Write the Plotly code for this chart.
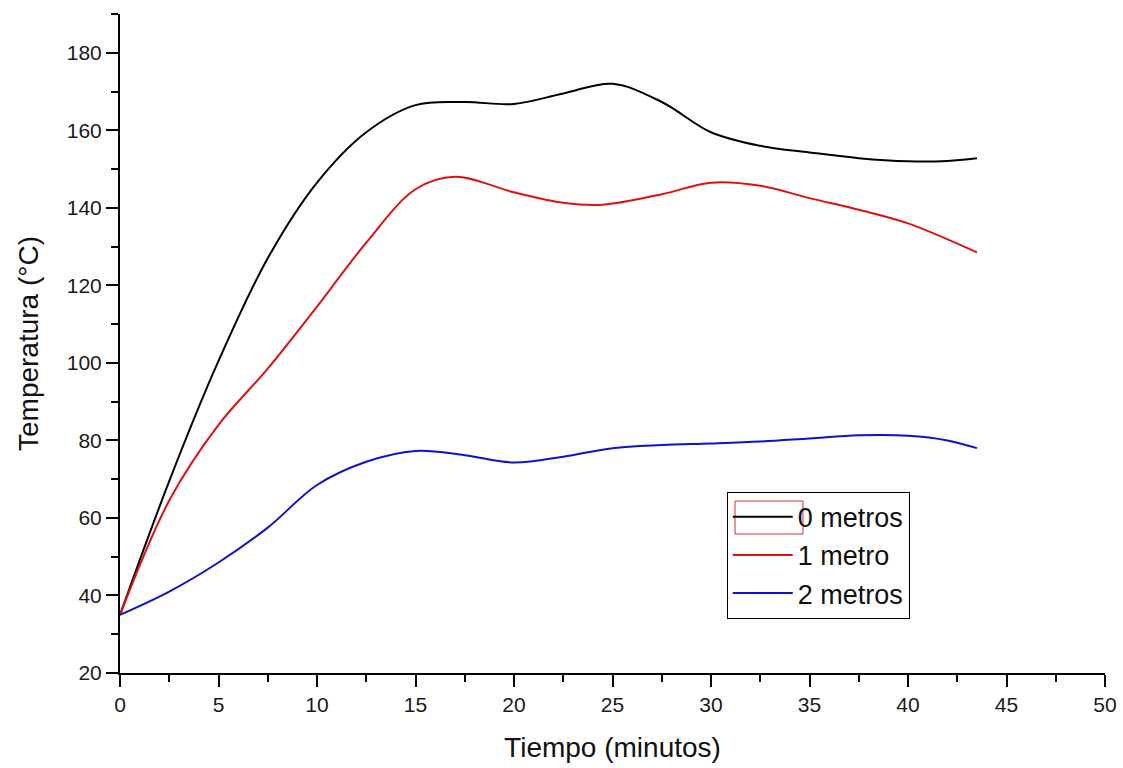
import plotly.graph_objects as go

tiempo_0 = [0, 2.5, 5, 7.5, 10, 12.5, 15, 17.5, 20, 22.5, 25, 27.5, 30, 32.5, 35, 37.5, 40, 42, 43.5]
temp_0_metros = [35, 69.5, 100.5, 127, 146.5, 159.5, 166.5, 167.3, 166.8, 169.5, 172, 167.3, 159.5, 156, 154.3, 152.8, 152, 152.1, 152.8]

tiempo_1 = [0, 2.5, 5, 7.5, 10, 12.5, 15, 17, 20, 22.5, 24.5, 27.5, 30, 32.5, 35, 37.5, 40, 43.5]
temp_1_metro = [35, 64.5, 84, 98.5, 114.5, 131, 144.8, 148, 144, 141.3, 140.8, 143.5, 146.5, 145.7, 142.5, 139.5, 136, 128.5]

tiempo_2 = [0, 2.5, 5, 7.5, 10, 12.5, 15, 17.5, 20, 22.5, 25, 27.5, 30, 32.5, 35, 37.5, 40, 42, 43.5]
temp_2_metros = [35, 41, 48.5, 57.5, 68.5, 74.5, 77.3, 76.2, 74.3, 75.8, 78, 78.8, 79.2, 79.7, 80.5, 81.3, 81.2, 80, 78]

series = [
    ("0 metros", tiempo_0, temp_0_metros, "#000000"),
    ("1 metro", tiempo_1, temp_1_metro, "#e01010"),
    ("2 metros", tiempo_2, temp_2_metros, "#1010d0"),
]

fig = go.Figure()
for name, xs, ys, col in series:
    fig.add_trace(go.Scatter(x=xs, y=ys, name=name, mode="lines",
                             line=dict(color=col, width=2, shape="spline", smoothing=1.0)))

FONT = "Liberation Sans, Arial, sans-serif"
axis_common = dict(showline=True, linecolor="black", linewidth=2, ticks="outside",
                   ticklen=12, tickwidth=2, tickcolor="black", showgrid=False,
                   zeroline=False, automargin=False,
                   tickfont=dict(family=FONT, size=21, color="#1a1a1a"),
                   minor=dict(ticks="outside", ticklen=7, tickwidth=2, tickcolor="black"))

fig.update_layout(
    width=1123, height=768,
    margin=dict(l=120, r=18, t=14, b=95),
    paper_bgcolor="white", plot_bgcolor="white",
    font=dict(family=FONT, color="#111"),
    xaxis=dict(range=[0, 50], tick0=0, dtick=5, minor_dtick=2.5,
               title=dict(text="Tiempo (minutos)", font=dict(size=28), standoff=22), **axis_common),
    yaxis=dict(range=[20, 190], tick0=20, dtick=20, minor_dtick=10,
               title=dict(text="Temperatura (°C)", font=dict(size=28), standoff=20), **axis_common),
    legend=dict(x=0.616, y=0.275, xanchor="left", yanchor="top",
                bordercolor="black", borderwidth=1, bgcolor="rgba(255,255,255,0)",
                font=dict(size=27, color="#111"), tracegroupgap=0, itemwidth=60),
    showlegend=True,
)

# red frame drawn around the first legend sample in the original
fig.add_shape(type="rect", xref="paper", yref="paper", layer="above",
              x0=0.6244, x1=0.6934, y0=0.2109, y1=0.261,
              line=dict(color="#d03030", width=1), fillcolor="rgba(0,0,0,0)")

fig.write_html("out.html", config={"displayModeBar": False},
               post_script="document.body.style.margin='0';")
